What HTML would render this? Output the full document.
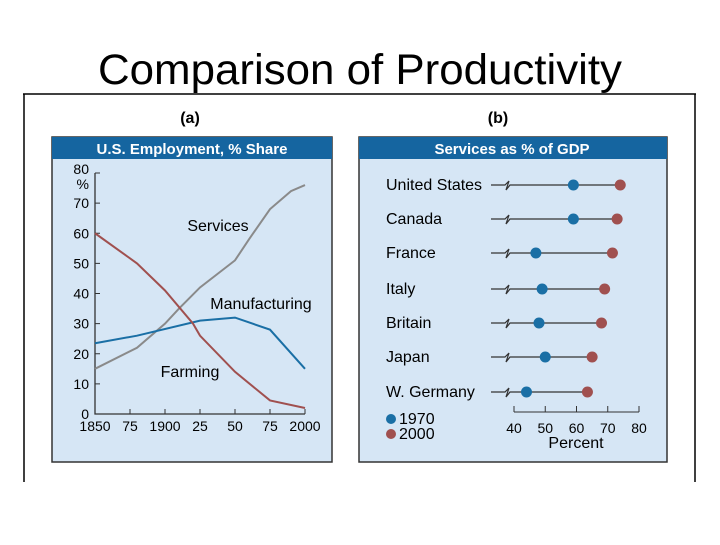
<!DOCTYPE html>
<html><head><meta charset="utf-8"><style>
body{margin:0;width:720px;height:540px;background:#fff;overflow:hidden;font-family:"Liberation Sans",sans-serif}
</style></head><body>
<svg width="720" height="540" viewBox="0 0 720 540" xmlns="http://www.w3.org/2000/svg" font-family="Liberation Sans, sans-serif">
<text x="360" y="84" text-anchor="middle" font-size="43" fill="#000" textLength="524" lengthAdjust="spacingAndGlyphs">Comparison of Productivity</text>
<g stroke="#000" stroke-width="1.5" fill="none">
<line x1="23" y1="94" x2="696" y2="94"/><line x1="24" y1="94" x2="24" y2="482"/><line x1="695" y1="94" x2="695" y2="482"/>
</g>
<text x="190" y="123" text-anchor="middle" font-size="16" font-weight="bold">(a)</text>
<text x="498" y="123" text-anchor="middle" font-size="16" font-weight="bold">(b)</text>
<g>
<rect x="52" y="137" width="280" height="325" fill="#d6e6f5" stroke="#333" stroke-width="1.5"/>
<rect x="52" y="137" width="280" height="22" fill="#1565a0"/>
<text x="192" y="154" text-anchor="middle" font-size="15" font-weight="bold" fill="#fff">U.S. Employment, % Share</text>
</g>
<g>
<rect x="359" y="137" width="308" height="325" fill="#d6e6f5" stroke="#333" stroke-width="1.5"/>
<rect x="359" y="137" width="308" height="22" fill="#1565a0"/>
<text x="512" y="154" text-anchor="middle" font-size="15" font-weight="bold" fill="#fff">Services as % of GDP</text>
</g>
<g id="ca"></g><g id="cb"></g>
</svg>
<script>
const years=[1850,1880,1900,1910,1925,1950,1960,1975,1990,2000];
const services=[15,22,30,35,42,51,58,68,74,76];
const mfgYears=[1850,1880,1925,1950,1975,2000];
const manufacturing=[23.5,26,31,32,28,15];
const farmYears=[1850,1880,1900,1920,1925,1950,1975,2000];
const farming=[60,50,41,30,26,14,4.5,2];
const yTicks=[0,10,20,30,40,50,60,70,80];
const xTicks=[1850,1875,1900,1925,1950,1975,2000];
const xTickLabels=["1850","75","1900","25","50","75","2000"];
const countries=["United States","Canada","France","Italy","Britain","Japan","W. Germany"];
const v1970=[59,59,47,49,48,50,44];
const v2000=[74,73,71.5,69,68,65,63.5];
const pTicks=[40,50,60,70,80];
const NS="http://www.w3.org/2000/svg";
function mk(p,t,a,txt){const e=document.createElementNS(NS,t);for(const k in a)e.setAttribute(k,a[k]);if(txt!==undefined)e.textContent=txt;p.appendChild(e);return e;}
const xA=y=>95+(y-1850)*(210/150), yA=v=>414-v*(241/80);
const ca=document.getElementById('ca');
let ax=mk(ca,'path',{d:`M95,173 V414 H305`,stroke:'#333','stroke-width':1.3,fill:'none'});


yTicks.forEach(v=>{mk(ca,'line',{x1:95,x2:100,y1:yA(v),y2:yA(v),stroke:'#333'});
 const t=mk(ca,'text',{x:89,y:yA(v)+(v===80?1:5),'text-anchor':'end','font-size':14},String(v));
 
 });
mk(ca,'text',{x:89,y:189,'text-anchor':'end','font-size':14},'%');
xTicks.forEach((y,i)=>{mk(ca,'line',{x1:xA(y),x2:xA(y),y1:414,y2:409,stroke:'#333'});
 const t=mk(ca,'text',{x:xA(y),y:431,'text-anchor':'middle','font-size':14},xTickLabels[i]);
 
 });
function line(xs,vs,c,name){const l=mk(ca,'polyline',{points:xs.map((x,i)=>xA(x)+','+yA(vs[i])).join(' '),fill:'none',stroke:c,'stroke-width':2});
 
 }
line(years,services,'#8a8a8a','services-line');
line(mfgYears,manufacturing,'#1a6fa5','manufacturing-line');
line(farmYears,farming,'#a0504f','farming-line');
[['Services',218,231],['Manufacturing',261,309],['Farming',190,377]].forEach(a=>{const t=mk(ca,'text',{x:a[1],y:a[2],'text-anchor':'middle','font-size':16},a[0]);
 
 });
const cb=document.getElementById('cb');
const xP=v=>514+(v-40)*(125/40);
const rows=[185,219,253,289,323,357,392];
countries.forEach((c,i)=>{const y=rows[i];
 const t=mk(cb,'text',{x:386,y:y+5,'font-size':16},c);
 
 
 mk(cb,'path',{d:`M491,${y} H505 L509,${y-4} L506,${y+5} L510,${y} H${xP(v2000[i])}`,stroke:'#333','stroke-width':1.2,fill:'none'});
 const d1=mk(cb,'circle',{cx:xP(v1970[i]),cy:y,r:5.5,fill:'#1a6fa5'});
 
 
 const d2=mk(cb,'circle',{cx:xP(v2000[i]),cy:y,r:5.5,fill:'#a0504f'});
 
 });
mk(cb,'line',{x1:xP(40),x2:xP(80),y1:412,y2:412,stroke:'#333'});
pTicks.forEach(v=>{mk(cb,'line',{x1:xP(v),x2:xP(v),y1:412,y2:406,stroke:'#333'});
 const t=mk(cb,'text',{x:xP(v),y:433,'text-anchor':'middle','font-size':14},String(v));
 
 });
mk(cb,'text',{x:576,y:448,'text-anchor':'middle','font-size':16},'Percent');
mk(cb,'circle',{cx:391,cy:419,r:5,fill:'#1a6fa5'});
mk(cb,'circle',{cx:391,cy:434,r:5,fill:'#a0504f'});
const l1=mk(cb,'text',{x:399,y:424,'font-size':16},'1970');


const l2=mk(cb,'text',{x:399,y:439,'font-size':16},'2000');


</script>
</body></html>
